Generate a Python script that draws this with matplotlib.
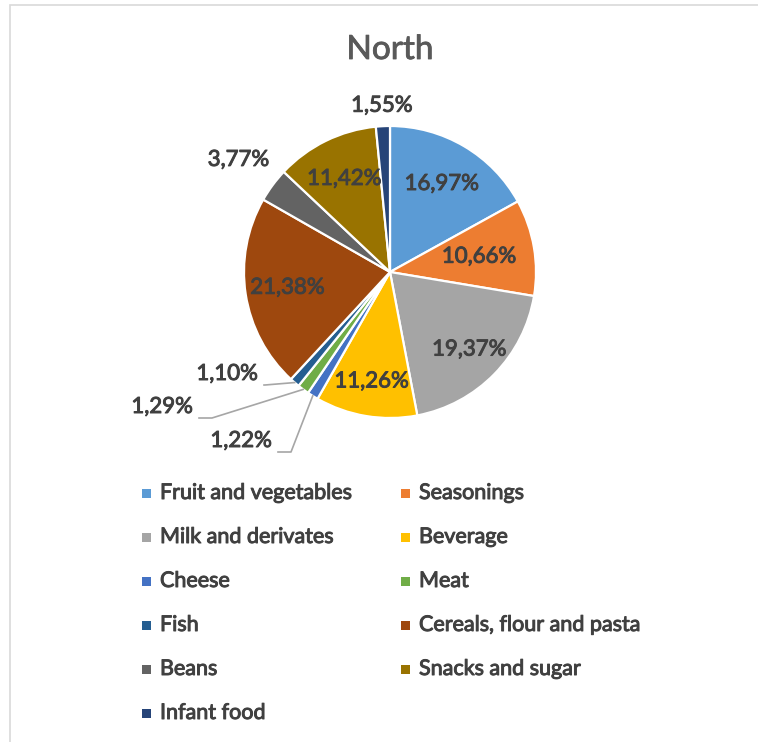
import numpy as np
import matplotlib.pyplot as plt
import matplotlib.patheffects as pe

categories = ["Fruit and vegetables", "Seasonings", "Milk and derivates", "Beverage",
              "Cheese", "Meat", "Fish", "Cereals, flour and pasta", "Beans",
              "Snacks and sugar", "Infant food"]
shares = [16.97, 10.66, 19.37, 11.26, 1.22, 1.29, 1.10, 21.38, 3.77, 11.42, 1.55]
labels = ["16,97%", "10,66%", "19,37%", "11,26%", "1,22%", "1,29%", "1,10%",
          "21,38%", "3,77%", "11,42%", "1,55%"]
colors = ["#5B9BD5", "#ED7D31", "#A5A5A5", "#FFC000", "#4472C4", "#70AD47",
          "#255E91", "#9E480E", "#636363", "#997300", "#264478"]

plt.rcParams["font.family"] = ["Lato", "DejaVu Sans"]
W, H = 758, 742
fig = plt.figure(figsize=(W / 100, H / 100), dpi=100)
ax = fig.add_axes([0, 0, 1, 1])

# chart frame (top and left edges visible)
ax.plot([10, 10, W], [0, H - 5, H - 5], color="#D9D9D9", lw=1.2, solid_joinstyle="miter")

cx, cy, r = 390, H - 272, 146
wedges, _ = ax.pie(shares, colors=colors, startangle=90, counterclock=False,
                   center=(cx, cy), radius=r, frame=True,
                   wedgeprops=dict(edgecolor="white", linewidth=1.6))
ax.set_xlim(0, W)
ax.set_ylim(0, H)
ax.set_aspect("equal")
ax.axis("off")

txt = "#404040"
fs = 16
heavy = [pe.withStroke(linewidth=0.7, foreground=txt)]


def mid_point(w, f):
    a = np.deg2rad((w.theta1 + w.theta2) / 2)
    return cx + f * r * np.cos(a), cy + f * r * np.sin(a)


# labels inside the larger slices
inside = {0: 0.70, 1: 0.62, 2: 0.76, 3: 0.76, 7: 0.71, 9: 0.71}
for i, f in inside.items():
    x, y = mid_point(wedges[i], f)
    ax.text(x, y, labels[i], ha="center", va="center", fontsize=fs, color=txt,
            path_effects=heavy)

# labels just outside
for i, f in {8: 1.29, 10: 1.14}.items():
    x, y = mid_point(wedges[i], f)
    ax.text(x, y, labels[i], ha="center", va="center", fontsize=fs, color=txt,
            path_effects=heavy)

# small slices with leader lines: (text right edge x, line y, elbow x)
leaders = {6: (258, 385, 265), 5: (193, 418, 212), 4: (272, 452, 291)}
for i, (tx, ly, ex) in leaders.items():
    x0, y0 = mid_point(wedges[i], 1.0)
    yy = H - ly
    ax.plot([x0, ex, tx + 6], [y0, yy, yy], color="#A6A6A6", lw=1.2)
    ax.text(tx, yy + 1, labels[i], ha="right", va="bottom", fontsize=fs, color=txt,
            path_effects=heavy)

ax.text(390, H - 50, "North", ha="center", va="center", fontsize=24, color="#595959",
        path_effects=[pe.withStroke(linewidth=0.6, foreground="#595959")])

# legend, two columns filled row by row
col_x = [146, 405]
for k, name in enumerate(categories):
    row, col = divmod(k, 2)
    y = H - (493 + row * 44)
    ax.add_patch(plt.Rectangle((col_x[col] - 4.5, y - 4.5), 9, 9, color=colors[k], lw=0))
    ax.text(col_x[col] + 14, y, name, ha="left", va="center", fontsize=15.5, color=txt,
            path_effects=heavy)

fig.savefig("out.png", dpi=100)
